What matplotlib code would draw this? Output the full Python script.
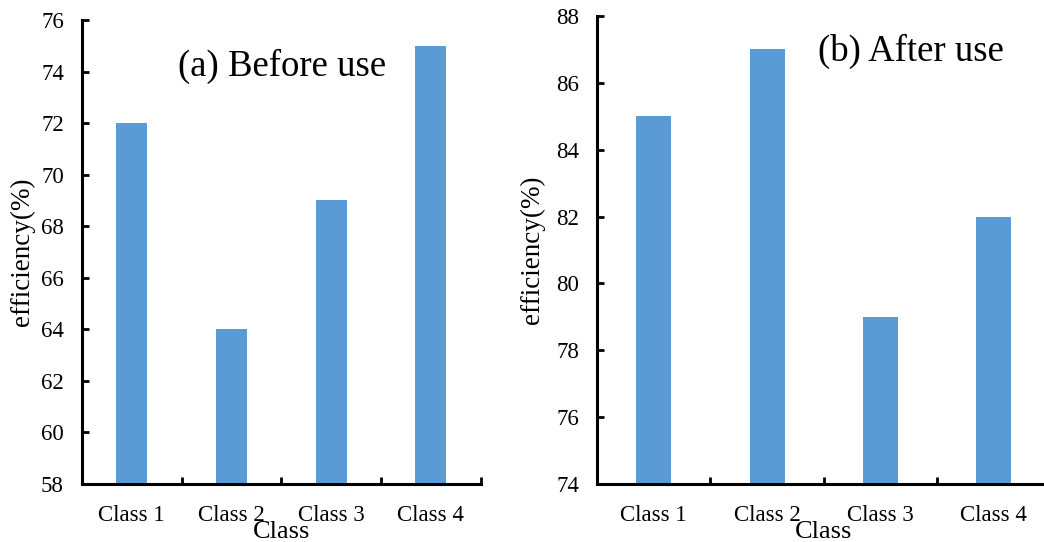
#! /usr/bin/env python3
import numpy as np
import matplotlib
matplotlib.use("Agg")
import matplotlib.pyplot as plt
import matplotlib.ticker as ptick

plt.rcParams["font.family"] = ["Liberation Serif", "DejaVu Serif"]

CLASSES = ["Class 1", "Class 2", "Class 3", "Class 4"]
BEFORE = [72, 64, 69, 75]
AFTER = [85, 87, 79, 82]
BAR_COLOR = "#5B9BD5"

fig = plt.figure(figsize=(10.44, 5.42), dpi=100)
ax1 = fig.add_axes([0.0785, 0.107, 0.382, 0.856])
ax2 = fig.add_axes([0.572, 0.107, 0.434, 0.8635])


def style(ax, values, ylim, title, tx, ty, ylx, xly):
    x = np.arange(len(values))
    ax.bar(x, values, width=0.31, color=BAR_COLOR, bottom=0)
    ax.set_xlim(-0.5, len(values) - 0.5)
    ax.set_ylim(*ylim)
    ax.yaxis.set_major_locator(ptick.MultipleLocator(2))
    ax.set_xticks(x)
    ax.set_xticklabels(CLASSES)
    ax.set_xticks(np.arange(len(values)) + 0.5, minor=True)
    for s in ["top", "right"]:
        ax.spines[s].set_visible(False)
    for s in ["left", "bottom"]:
        ax.spines[s].set_linewidth(2.2)
    ax.tick_params(axis="x", which="major", length=0, pad=15, labelsize=16.5)
    ax.tick_params(axis="x", which="minor", direction="in", length=5, width=2)
    ax.tick_params(axis="y", direction="in", length=5, width=2, pad=13, labelsize=16.5)
    ax.set_xlabel("Class", fontsize=19)
    ax.set_ylabel("efficiency(%)", fontsize=19.5)
    ax.xaxis.set_label_coords(0.5, xly)
    ax.yaxis.set_label_coords(ylx, 0.5)
    ax.text(tx, ty, title, transform=ax.transAxes, ha="center", va="center", fontsize=26.5)


style(ax1, BEFORE, (58, 76), "(a) Before use", 0.503, 0.90, -0.118, -0.08)
style(ax2, AFTER, (74, 88), "(b) After use", 0.693, 0.925, -0.115, -0.079)

plt.savefig("out.png", dpi=100)
